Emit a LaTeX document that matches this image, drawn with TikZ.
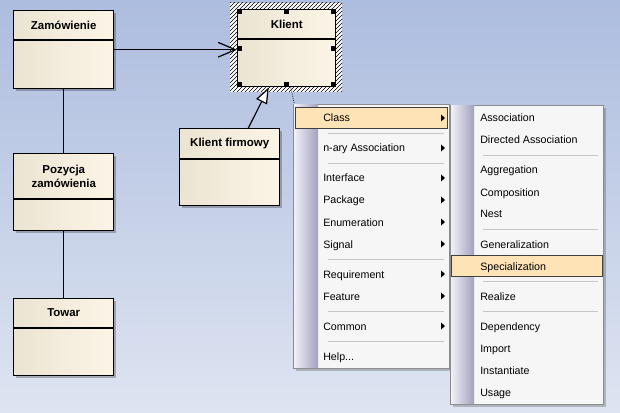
\documentclass[tikz,border=0pt]{standalone}
\usepackage{fontspec}
\setmainfont{Liberation Sans}
\usetikzlibrary{arrows.meta,shadows,patterns}
\definecolor{tlo1}{HTML}{ADBDDF}
\definecolor{tlo2}{HTML}{DEE4F1}
\definecolor{krem1}{HTML}{ECE4D2}
\definecolor{krem2}{HTML}{FCF4E6}
\definecolor{menu}{HTML}{F6F6F6}
\definecolor{ramka}{HTML}{8C8C8C}
\definecolor{podsw}{HTML}{FEE3B6}
\definecolor{pas1}{HTML}{F0F0F8}
\definecolor{pas2}{HTML}{A3A1BE}
\definecolor{kreska}{HTML}{C6C6C6}
\begin{document}
\begin{tikzpicture}[x=.75pt,y=-.75pt,
	klasa/.style={draw,line width=1.1pt,anchor=north west,inner sep=0pt,left color=krem1,right color=krem2,minimum width=75pt,minimum height=57.75pt},
	cien/.style={drop shadow={shadow xshift=2pt,shadow yshift=-2pt,fill=black,opacity=.25}},
	tytul/.style={font=\fontsize{8.6}{10.5}\selectfont\bfseries,align=center,inner sep=0pt},
	wiersz/.style={font=\fontsize{8}{9.6}\selectfont,anchor=west,inner sep=0pt,text height=6pt,text depth=0pt},
	linia/.style={line width=.9pt}]
		\useasboundingbox(0,0)rectangle(620,413);
		\shade[top color=tlo1,bottom color=tlo2](0,0)rectangle(620,413);
		% klasy
		\node[klasa,cien,minimum height=58.5pt](zam)at(13,10){};
		\node[klasa,cien](poz)at(13,153){};
		\node[klasa,cien](tow)at(13,298){};
		\node[klasa,cien](kf)at(179,128){};
		\fill[white](230,3)rectangle(342,92);
		\fill[pattern=north east lines](230,3)rectangle(342,92);
		\node[klasa,minimum width=73.5pt](kli)at(237,9){};
		\foreach\n/\h/\t in{zam/30/Zamówienie,kli/30/Klient,kf/31/Klient firmowy,poz/46/{Pozycja\\zamówienia},tow/30/Towar}{
			\draw[line width=1.1pt]([yshift=-\h*.75pt]\n.north west)--([yshift=-\h*.75pt]\n.north east);
			\node[tytul](\n T)at([yshift=-\h*.375pt]\n.north){\t};}
		\draw[linia,-{Straight Barb[length=13pt,width=11pt]}](zam.east)--(zam.east-|kli.west);
		\draw[linia](zam.south)--(poz.north)(poz.south)--(tow.north);
		\draw[linia,-{Triangle[open,length=12pt,width=9pt,fill=white]}]([xshift=14pt]kf.north)--([xshift=-13.5pt]kli.south);
		\foreach\a/\dx/\dy in{north west/1/1,north/0/1,north east/-1/1,west/1/0,east/-1/0,south west/1/-1,south/0/-1,south east/-1/-1}
			\fill([shift={(\dx*2.5,\dy*2.5)}]kli.\a)+(-2.5,-2.5)rectangle+(2.5,2.5);
		% menu
		\coordinate(men)at(293,104);
		\draw[densely dotted,line width=.6pt]([xshift=3pt]kli.south)--([xshift=1pt]men);
		\fill[black,opacity=.2](296,107)rectangle(452,371);
		\draw[ramka,fill=menu](men)rectangle(449,368);
		\shade[left color=pas1,right color=pas2](294,105)rectangle(318,367);
		\draw[fill=podsw,draw=black!75](295,107)rectangle(447,128);
		\foreach\y in{133,163,259,311,341}\draw[kreska](328,\y)--(444,\y);
		\foreach\t/\y/\s in{Class/118/1,n-ary Association/148/1,Interface/178/1,Package/200/1,Enumeration/222/1,Signal/244/1,Requirement/274/1,Feature/296/1,Common/326/1,{Help...}/356/0}{
			\node[wiersz](a\y)at(323,\y){\t};
			\ifnum\s=1\fill(441,\y-3.5)--(445,\y)--(441,\y+3.5)--cycle;\fi}
		% podmenu
		\coordinate(sub)at(450,105);
		\fill[black,opacity=.2](453,108)rectangle(606,407);
		\draw[ramka,fill=menu](sub)rectangle(603,404);
		\shade[left color=pas1,right color=pas2](451,106)rectangle(474,403);
		\draw[fill=podsw,draw=black!75](451,255)rectangle(602,276);
		\foreach\y in{155,229,281,311}\draw[kreska](483,\y)--(598,\y);
		\foreach\t/\y in{Association/118,Directed Association/140,Aggregation/170,Composition/192,Nest/214,Generalization/244,Specialization/266,Realize/296,Dependency/326,Import/348,Instantiate/370,Usage/392}
			\node[wiersz](b\y)at(480,\y){\t};
\end{tikzpicture}
\end{document}
